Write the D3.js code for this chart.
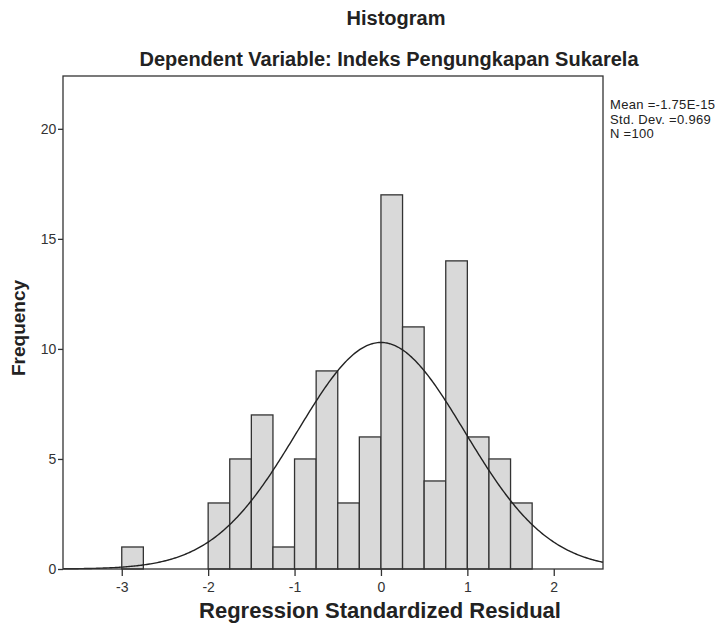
<!DOCTYPE html>
<html><head><meta charset="utf-8">
<script src="https://cdn.jsdelivr.net/npm/d3@7"></script>
<style>body{margin:0;background:#fff;} svg{display:block;font-family:"Liberation Sans",Arial,sans-serif;}</style>
</head><body>
<script>
// Data
const binStarts = [-3.0,-2.75,-2.5,-2.25,-2.0,-1.75,-1.5,-1.25,-1.0,-0.75,-0.5,-0.25,0.0,0.25,0.5,0.75,1.0,1.25,1.5];
const counts    = [1,0,0,0,3,5,7,1,5,9,3,6,17,11,4,14,6,5,3];
const binWidth = 0.25;
const xTicks = [-3,-2,-1,0,1,2];
const yTicks = [0,5,10,15,20];
const statsLabels = ["Mean =-1.75E-15","Std. Dev. =0.969","N =100"];
const mean = -1.75e-15, sd = 0.969, N = 100;

const W = 726, H = 629;
const m = {left:63, right:603, top:76, bottom:569};
const svg = d3.select("body").append("svg").attr("width",W).attr("height",H);

const x = d3.scaleLinear().domain([-3.68,2.57]).range([m.left,m.right]);
const y = d3.scaleLinear().domain([0,22.4]).range([m.bottom,m.top]);
const ink = "#333";

// bars
svg.append("g").selectAll("rect").data(binStarts.map((s,i)=>({s,c:counts[i]})).filter(d=>d.c>0))
  .join("rect")
  .attr("x",d=>x(d.s)).attr("width",d=>x(d.s+binWidth)-x(d.s))
  .attr("y",d=>y(d.c)).attr("height",d=>y(0)-y(d.c))
  .attr("fill","#d9d9d9").attr("stroke",ink).attr("stroke-width",1.3);

// normal curve from displayed statistics
const xs = d3.range(0,401).map(i=>-3.68 + i*(2.57+3.68)/400);
const curve = xs.map(v=>[v, N*binWidth/(sd*Math.sqrt(2*Math.PI))*Math.exp(-0.5*((v-mean)/sd)**2)]);
svg.append("path").datum(curve)
  .attr("d",d3.line().x(d=>x(d[0])).y(d=>y(d[1])))
  .attr("fill","none").attr("stroke","#222").attr("stroke-width",1.4);

// frame
svg.append("rect").attr("x",m.left).attr("y",m.top).attr("width",m.right-m.left).attr("height",m.bottom-m.top)
  .attr("fill","none").attr("stroke",ink).attr("stroke-width",1.3);

// axes
const fmt = d=>String(d);
const xAxis = svg.append("g").attr("transform",`translate(0,${m.bottom})`)
  .call(d3.axisBottom(x).tickValues(xTicks).tickSize(7).tickSizeOuter(0).tickFormat(fmt));
const yAxis = svg.append("g").attr("transform",`translate(${m.left},0)`)
  .call(d3.axisLeft(y).tickValues(yTicks).tickSize(5).tickSizeOuter(0).tickFormat(fmt));
[xAxis,yAxis].forEach(g=>{
  g.select(".domain").remove();
  g.selectAll("line").attr("stroke",ink).attr("stroke-width",1.3);
  g.selectAll("text").attr("fill","#333").style("font-size","14px").style("font-family","Liberation Sans, Arial, sans-serif");
});
xAxis.selectAll("text").attr("dy","0.95em");
yAxis.selectAll("text").attr("dx","0.1em");

// titles
svg.append("text").attr("x",396).attr("y",25).attr("text-anchor","middle")
  .style("font-size","20px").style("font-weight","bold").attr("fill","#222").text("Histogram");
svg.append("text").attr("x",389).attr("y",66).attr("text-anchor","middle")
  .style("font-size","20px").style("font-weight","bold").attr("fill","#222").text("Dependent Variable: Indeks Pengungkapan Sukarela");
svg.append("text").attr("x",380).attr("y",618).attr("text-anchor","middle")
  .style("font-size","22px").style("font-weight","bold").attr("fill","#222").text("Regression Standardized Residual");
svg.append("text").attr("transform","translate(25,328) rotate(-90)").attr("text-anchor","middle")
  .style("font-size","19px").style("font-weight","bold").attr("fill","#222").text("Frequency");

// stats
svg.append("g").selectAll("text").data(statsLabels).join("text")
  .attr("x",610).attr("y",(d,i)=>109+i*14.6)
  .style("font-size","13px").style("letter-spacing","0.3px").attr("fill","#222").text(d=>d);
</script>
</body></html>
